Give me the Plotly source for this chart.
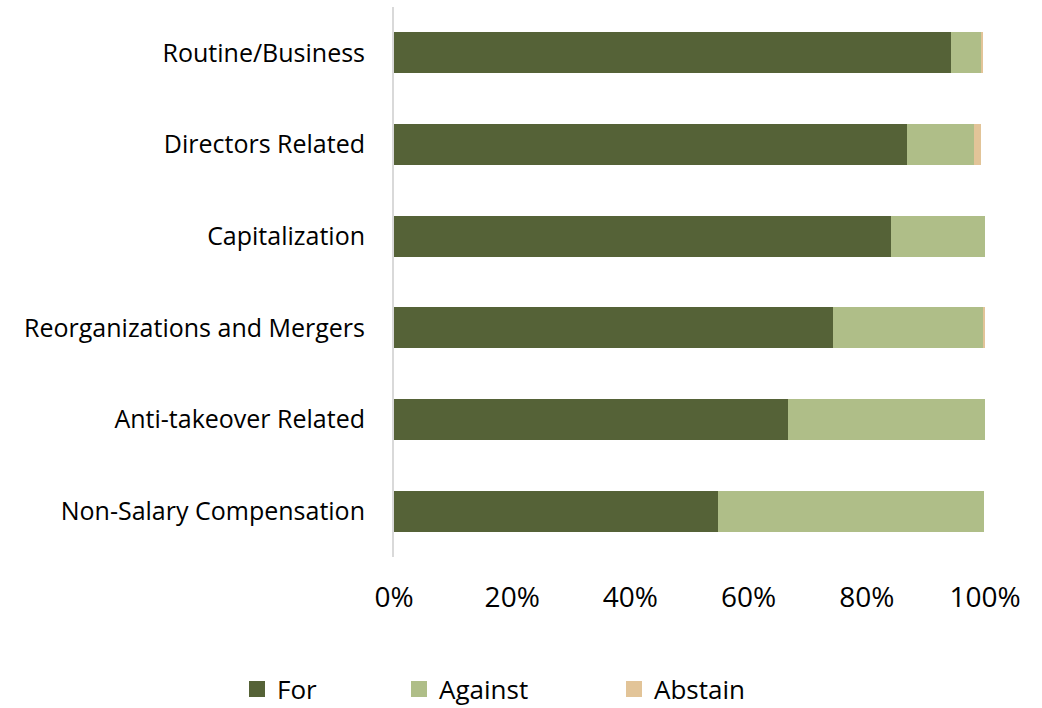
import plotly.graph_objects as go

# Proxy vote outcomes by proposal type (share of votes, %)
categories = [
    "Routine/Business",
    "Directors Related",
    "Capitalization",
    "Reorganizations and Mergers",
    "Anti-takeover Related",
    "Non-Salary Compensation",
]
vote_for = [94.2, 86.8, 84.1, 74.2, 66.6, 54.8]
vote_against = [5.2, 11.3, 15.9, 25.4, 33.4, 45.0]
vote_abstain = [0.3, 1.2, 0.0, 0.4, 0.0, 0.0]
x_ticks = [0, 20, 40, 60, 80, 100]
x_tick_labels = ["0%", "20%", "40%", "60%", "80%", "100%"]

series = [
    ("For", vote_for, "#556237", "legend", 237),
    ("Against", vote_against, "#AFBE88", "legend2", 399),
    ("Abstain", vote_abstain, "#E2C498", "legend3", 614),
]

FONT = "Open Sans, sans-serif"

fig = go.Figure()
for name, vals, color, leg, _ in series:
    fig.add_trace(go.Bar(
        y=categories, x=vals, name=name, orientation="h",
        marker=dict(color=color, line=dict(width=0)),
        showlegend=False,
    ))
    # square legend key, larger than the default bar swatch
    fig.add_trace(go.Scatter(
        x=[None], y=[None], name=name, mode="markers",
        marker=dict(symbol="square", size=16, color=color),
        legend=leg, showlegend=True,
    ))

legend_common = dict(
    orientation="h", xref="container", yref="container",
    yanchor="middle", y=(708 - 689) / 708,
    font=dict(family=FONT, size=26, color="#000000"),
    bgcolor="rgba(0,0,0,0)", borderwidth=0,
)
legends = {
    ("legend" if i == 0 else f"legend{i + 1}"): dict(
        **legend_common, x=px / 1042, xanchor="left"
    )
    for i, (_, _, _, _, px) in enumerate(series)
}

fig.update_layout(
    barmode="stack",
    bargap=0.55,
    width=1042, height=708,
    margin=dict(l=394, r=57, t=7, b=151),
    paper_bgcolor="white", plot_bgcolor="white",
    font=dict(family=FONT, size=25, color="#000000"),
    showlegend=True,
    **legends,
    xaxis=dict(
        range=[0, 100], tickvals=x_ticks, ticktext=x_tick_labels,
        showgrid=False, zeroline=False, showline=False,
        ticks="", ticklabelstandoff=21,
        tickfont=dict(family=FONT, size=28, color="#000000"),
    ),
    yaxis=dict(
        autorange="reversed", showgrid=False, zeroline=False,
        showline=True, linecolor="#D9D9D9", linewidth=2,
        ticks="", ticklabelstandoff=22,
        tickfont=dict(family=FONT, size=25, color="#000000"),
    ),
)

fig.write_html("out.html")
